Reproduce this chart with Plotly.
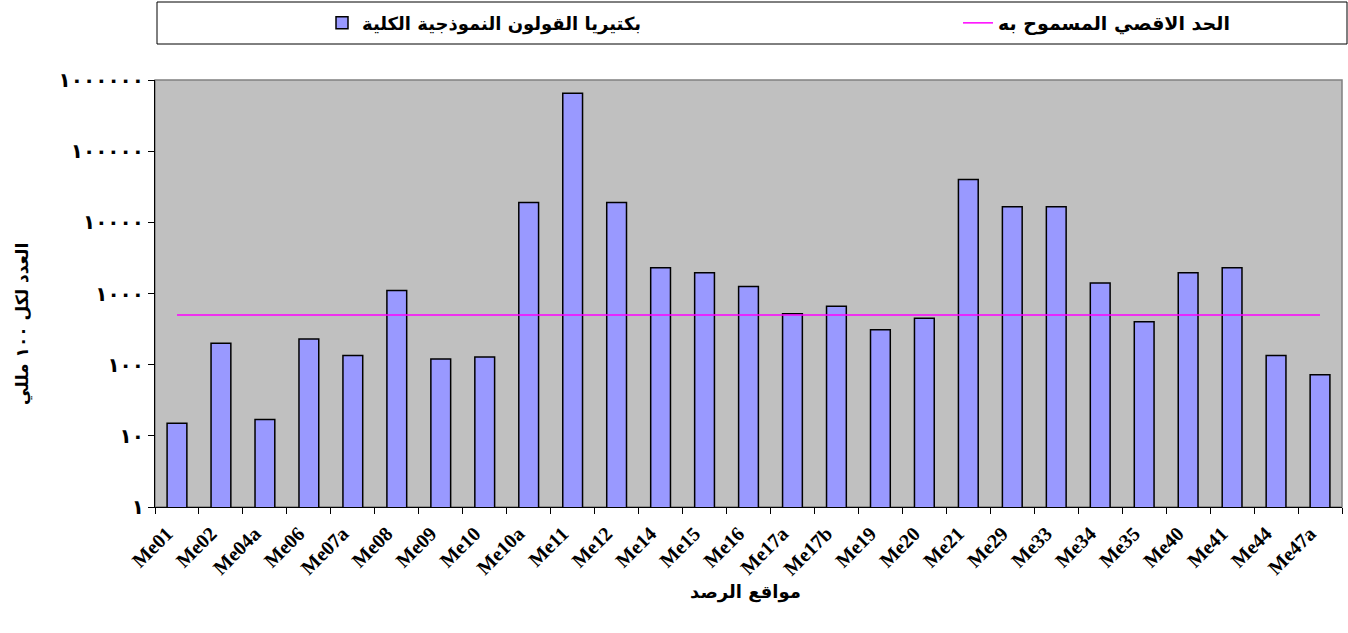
import plotly.graph_objects as go

sites = ["Me01","Me02","Me04a","Me06","Me07a","Me08","Me09","Me10","Me10a","Me11","Me12","Me14",
         "Me15","Me16","Me17a","Me17b","Me19","Me20","Me21","Me29","Me33","Me34","Me35","Me40",
         "Me41","Me44","Me47a"]
coliform = [15, 200, 17, 230, 135, 1100, 120, 128, 19000, 650000, 19000, 2300,
            1950, 1250, 520, 660, 310, 450, 40000, 16500, 16500, 1400, 400, 1950,
            2300, 135, 72]
limit = [500] * len(sites)

bar_name = "بكتيريا القولون النموذجية الكلية"
line_name = "الحد الاقصي المسموح به"
y_title = "العدد لكل ١٠٠ مللي"
x_title = "مواقع الرصد"
ytick_vals = [1, 10, 100, 1000, 10000, 100000, 1000000]
ytick_text = ["١", "١٠", "١٠٠", "١٠٠٠", "١٠٠٠٠", "١٠٠٠٠٠", "١٠٠٠٠٠٠"]

fig = go.Figure()
fig.add_trace(go.Bar(
    x=sites, y=coliform, name=bar_name, legend="legend",
    marker=dict(color="#9999FF", line=dict(color="black", width=1.5)),
    width=0.45,
))
fig.add_trace(go.Scatter(
    x=sites, y=limit, name=line_name, mode="lines", legend="legend2",
    line=dict(color="#FF00FF", width=1.5),
))

W, H = 1348, 633
SX0, SX1, SY0, SY1 = 155, 1342, 80, 507  # plot area in page px
ml, mt = SX0, SY0
mr, mb = W - SX1, H - SY1
pw, ph = SX1 - SX0, SY1 - SY0

def px_x(x):
    return (x - SX0) / pw

def px_y(y):
    return 1 + (SY0 - y) / ph

bold_ar = dict(family="DejaVu Sans", weight="bold")
leg_common = dict(orientation="h", xanchor="left", yanchor="middle",
                  bgcolor="rgba(0,0,0,0)")

fig.update_layout(
    width=W, height=H,
    margin=dict(l=ml, r=mr, t=mt, b=mb, autoexpand=False),
    paper_bgcolor="white",
    plot_bgcolor="#C0C0C0",
    font=dict(family="Arial, DejaVu Sans", color="black"),
    showlegend=True,
    legend=dict(x=px_x(322), y=px_y(23), font=dict(size=18, **bold_ar), **leg_common),
    legend2=dict(x=px_x(958), y=px_y(23), font=dict(size=19, **bold_ar), **leg_common),
    shapes=[
        dict(type="rect", xref="paper", yref="paper", x0=px_x(157), x1=px_x(1347),
             y0=px_y(44), y1=px_y(2), line=dict(color="black", width=1), fillcolor="rgba(0,0,0,0)"),
        dict(type="rect", xref="paper", yref="paper", x0=0, x1=1, y0=0, y1=1,
             line=dict(color="#808080", width=1.5), layer="below"),
    ],
    annotations=[
        dict(text=y_title, xref="paper", yref="paper", x=px_x(22), y=px_y(324),
             xanchor="center", yanchor="middle",
             textangle=-90, showarrow=False, font=dict(size=17, **bold_ar)),
        dict(text=x_title, xref="paper", yref="paper", x=px_x(745), y=px_y(592),
             xanchor="center", yanchor="middle",
             showarrow=False, font=dict(size=18, **bold_ar)),
    ],
)
fig.update_xaxes(
    type="category", showgrid=False, showline=True, linecolor="black", linewidth=1,
    ticks="outside", ticklen=6, tickcolor="black", tickson="boundaries",
    tickangle=-45, tickfont=dict(family="Liberation Serif, Times New Roman", size=20, weight="bold"),
    ticklabelshift=-10, ticklabelstandoff=6,
)
fig.update_yaxes(
    type="log", range=[0, 6], showgrid=False, showline=True, linecolor="black", linewidth=1,
    ticks="outside", ticklen=6, tickcolor="black",
    tickvals=ytick_vals, ticktext=ytick_text,
    tickfont=dict(size=20, **bold_ar),
)

fig.write_html("out.html", config={"displayModeBar": False},
               post_script="document.body.style.margin='0';")
